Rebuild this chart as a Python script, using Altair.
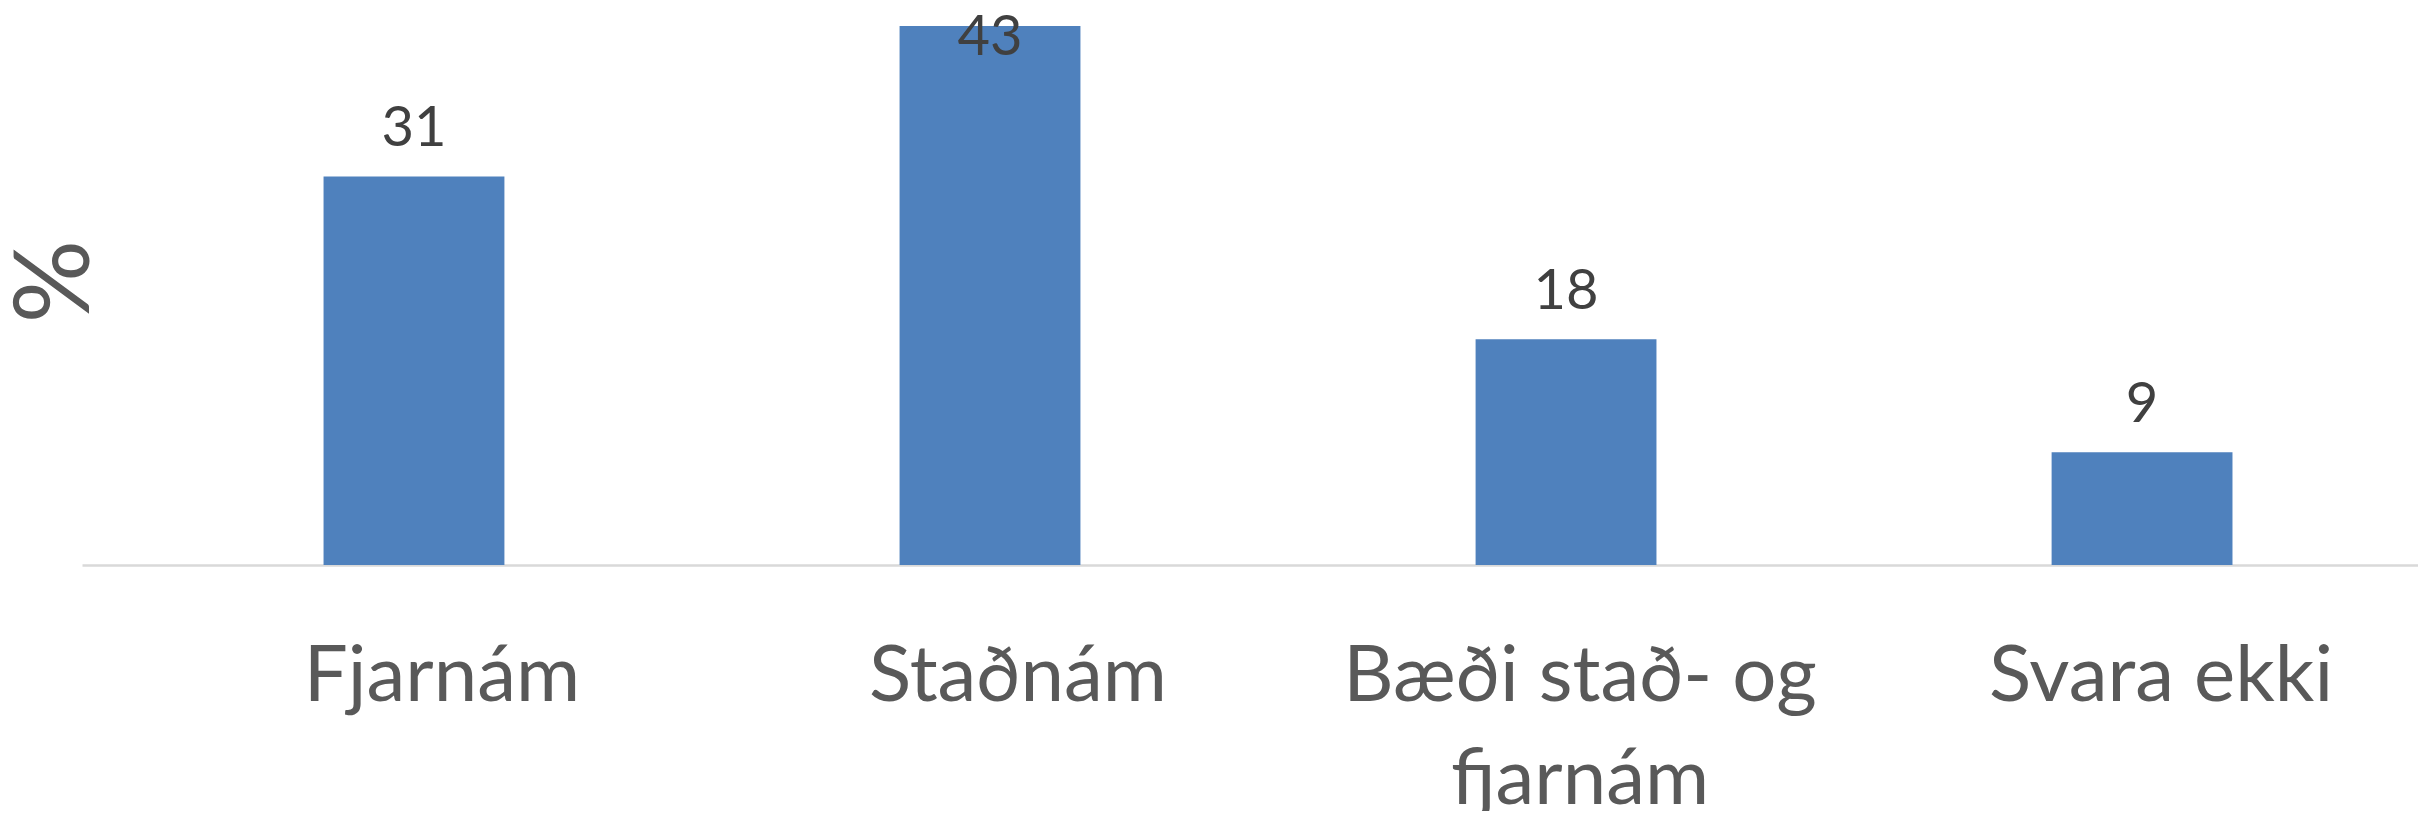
import altair as alt
import pandas as pd

categories = ["Fjarnám", "Staðnám", "Bæði stað- og fjarnám", "Svara ekki"]
values = [31, 43, 18, 9]
y_title = "%"

df = pd.DataFrame({"cat": categories, "pct": values})

FONT = "Lato"

y_axis = alt.Axis(
    title=y_title,
    domain=False,
    ticks=False,
    labels=False,
    grid=False,
    titleFont=FONT,
    titleFontSize=104,
    titleFontWeight="normal",
    titleColor="#595959",
    titleAngle=270,
    titleX=-25,
    titleY=255,
    titleAlign="center",
    titleBaseline="middle",
)
y_scale = alt.Scale(domain=[0, 43], nice=False, zero=True)

base = alt.Chart(df).encode(
    x=alt.X(
        "cat:N",
        sort=categories,
        title=None,
        scale=alt.Scale(paddingInner=0.686, paddingOuter=0.3707, align=0.5656),
        axis=alt.Axis(
            domain=True,
            domainColor="#d9d9d9",
            domainWidth=2.5,
            ticks=False,
            tickSize=0,
            labelAngle=0,
            labelFont=FONT,
            labelFontSize=78,
            labelColor="#595959",
            labelPadding=73,
            labelBaseline="top",
            labelLineHeight=103,
            labelLimit=0,
            labelOffset={
                "condition": [
                    {"test": "datum.value == 'Svara ekki'", "value": 19},
                    {"test": "datum.value == 'Bæði stað- og fjarnám'", "value": 14},
                ],
                "value": 28,
            },
            labelExpr="datum.label == 'Bæði stað- og fjarnám' ? ['Bæði stað- og', 'fjarnám'] : datum.label",
        ),
    )
)

bars = base.mark_bar(color="#4f81bd").encode(
    y=alt.Y("pct:Q", scale=y_scale, axis=y_axis)
)

labels = base.transform_calculate(
    label_y="min(datum.pct, 38.3)"
).mark_text(
    font=FONT, fontSize=56, color="#404040", baseline="alphabetic", dy=-30
).encode(
    y=alt.Y("label_y:Q", scale=y_scale, axis=y_axis),
    text=alt.Text("pct:Q"),
)

chart = (
    alt.layer(bars, labels)
    .properties(
        width=2336,
        height=539,
        autosize=alt.AutoSizeParams(type="none"),
        padding={"left": 74, "top": 18, "right": 0, "bottom": 246},
    )
    .configure(
        background="white",
        view=alt.ViewConfig(stroke="transparent", strokeWidth=0),
    )
)

chart.save("out.html", embed_options={"renderer": "svg", "actions": False})
